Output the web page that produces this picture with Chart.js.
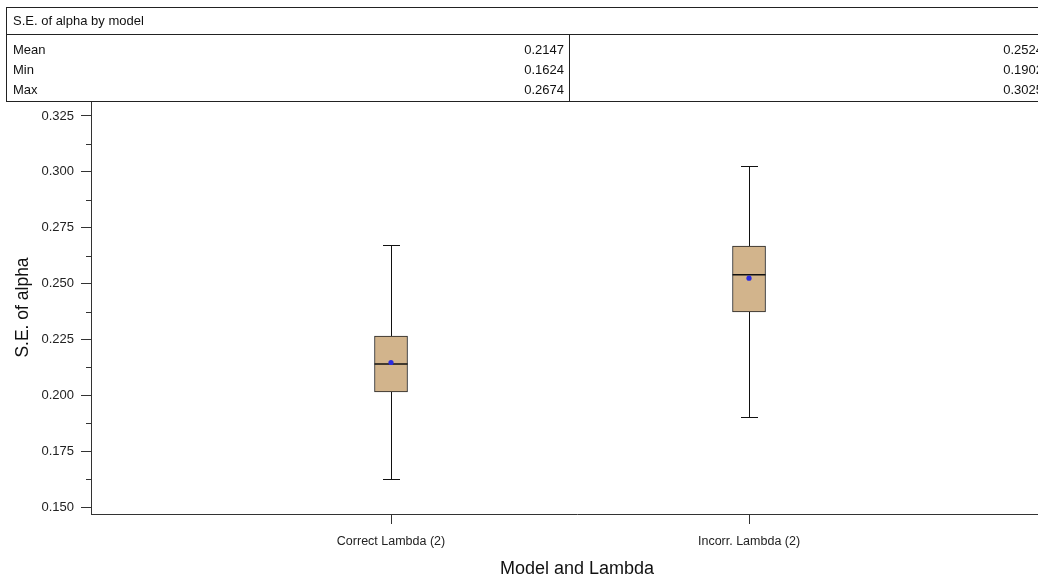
<!DOCTYPE html>
<html>
<head>
<meta charset="utf-8">
<title>S.E. of alpha by model</title>
<script src="https://cdn.jsdelivr.net/npm/chart.js@4.4.0/dist/chart.umd.min.js"></script>
<style>
  html, body { margin: 0; padding: 0; background: #fff; overflow: hidden; width: 1038px; height: 580px; }
  #wrap { position: absolute; left: 0; top: 0; width: 1070px; height: 580px; }
  #summary {
    position: absolute; left: 6px; top: 7px; width: 1160px; height: 93px;
    border: 1px solid #222; box-sizing: content-box;
    font-family: "Liberation Sans", Arial, sans-serif; font-size: 13px; color: #111;
  }
  #summary .title { position: absolute; left: 0; top: 0; width: 100%; height: 26px; border-bottom: 1px solid #222; }
  #summary .title span { position: absolute; left: 6px; top: 5px; }
  #summary .col { position: absolute; top: 27px; height: 66px; }
  #summary .col.first { left: 0; width: 562px; border-right: 1px solid #222; }
  #summary .col.second { left: 563px; width: 478px; }
  #summary .row { position: absolute; left: 0; right: 0; height: 20px; line-height: 20px; }
  #summary .row .name { position: absolute; left: 6px; }
  #summary .row .val { position: absolute; right: 5px; }
</style>
</head>
<body>
<div id="wrap"><canvas id="chart"></canvas></div>
<div id="summary">
  <div class="title"><span>S.E. of alpha by model</span></div>
  <div class="col first" id="colA"></div>
  <div class="col second" id="colB"></div>
</div>
<script>
// Box-plot summaries per model
const categories = ['Correct Lambda (2)', 'Incorr. Lambda (2)'];
const q1Values = [0.2015, 0.2373];
const medianValues = [0.2140, 0.2539];
const q3Values = [0.2265, 0.2668];
const meanValues = [0.2147, 0.2524];
const minValues = [0.1624, 0.1902];
const maxValues = [0.2674, 0.3025];

// Axis tick labels
const yTickLabels = ['0.150', '0.175', '0.200', '0.225', '0.250', '0.275', '0.300', '0.325'];
const yTickValues = yTickLabels.map(Number);

// Summary table rows
const statNames = ['Mean', 'Min', 'Max'];
const statColumns = [
  [meanValues[0], minValues[0], maxValues[0]],
  [meanValues[1], minValues[1], maxValues[1]]
];

['colA', 'colB'].forEach((id, c) => {
  const col = document.getElementById(id);
  statNames.forEach((name, r) => {
    const row = document.createElement('div');
    row.className = 'row';
    row.style.top = (5 + r * 20) + 'px';
    if (c === 0) {
      const n = document.createElement('span');
      n.className = 'name';
      n.textContent = name;
      row.appendChild(n);
    }
    const v = document.createElement('span');
    v.className = 'val';
    v.textContent = statColumns[c][r].toFixed(4);
    row.appendChild(v);
    col.appendChild(row);
  });
});

const FONT = '"Liberation Sans", Arial, sans-serif';
const AXIS_COLOR = '#333';
const LINE_COLOR = '#111';
const CAP_HALF = 8.5;

// Whiskers under the boxes, medians and caps on top of them
const boxLines = {
  id: 'boxLines',
  beforeDatasetsDraw(chart) {
    const { ctx, scales: { x, y } } = chart;
    ctx.save();
    ctx.strokeStyle = LINE_COLOR;
    ctx.lineWidth = 1;
    categories.forEach((c, i) => {
      const px = Math.round(x.getPixelForValue(i + 1)) + 0.5;
      const yMin = Math.round(y.getPixelForValue(minValues[i])) + 0.5;
      const yMax = Math.round(y.getPixelForValue(maxValues[i])) + 0.5;
      ctx.beginPath();
      ctx.moveTo(px, yMin); ctx.lineTo(px, yMax);
      ctx.moveTo(px - CAP_HALF, yMin); ctx.lineTo(px + CAP_HALF, yMin);
      ctx.moveTo(px - CAP_HALF, yMax); ctx.lineTo(px + CAP_HALF, yMax);
      ctx.stroke();
    });
    ctx.restore();
  },
  afterDatasetDraw(chart, args) {
    if (args.index !== 0) return;
    const { ctx, scales: { y } } = chart;
    const meta = chart.getDatasetMeta(0);
    ctx.save();
    ctx.strokeStyle = LINE_COLOR;
    ctx.lineWidth = 1.5;
    meta.data.forEach((bar, i) => {
      const half = bar.width / 2;
      const py = y.getPixelForValue(medianValues[i]);
      ctx.beginPath();
      ctx.moveTo(bar.x - half, py); ctx.lineTo(bar.x + half, py);
      ctx.stroke();
    });
    ctx.restore();
  },
  afterDraw(chart) {
    // minor ticks halfway between labelled ticks
    const { ctx, scales: { y } } = chart;
    const left = y.right;
    ctx.save();
    ctx.strokeStyle = AXIS_COLOR;
    ctx.lineWidth = 1;
    for (let k = 0; k < yTickValues.length - 1; k++) {
      const py = Math.round(y.getPixelForValue((yTickValues[k] + yTickValues[k + 1]) / 2)) + 0.5;
      ctx.beginPath();
      ctx.moveTo(left - 5, py); ctx.lineTo(left, py);
      ctx.stroke();
    }
    ctx.restore();
  }
};

new Chart(document.getElementById('chart'), {
  type: 'bar',
  data: {
    datasets: [
      {
        type: 'bar',
        data: categories.map((c, i) => ({ x: i + 1, y: [q1Values[i], q3Values[i]] })),
        backgroundColor: '#D2B48C',
        borderColor: '#222',
        borderWidth: 1,
        borderSkipped: false,
        barThickness: 33,
        order: 2
      },
      {
        type: 'scatter',
        data: categories.map((c, i) => ({ x: i + 1, y: meanValues[i] })),
        pointRadius: 2.6,
        pointStyle: 'circle',
        backgroundColor: '#2b2be0',
        borderColor: '#2b2be0',
        borderWidth: 0,
        order: 1
      }
    ]
  },
  options: {
    responsive: true,
    maintainAspectRatio: false,
    animation: false,
    layout: { padding: { top: 101, right: 7, left: 0, bottom: 0 } },
    plugins: { legend: { display: false }, tooltip: { enabled: false } },
    scales: {
      x: {
        type: 'linear',
        min: 0.162,
        max: 2.877,
        offset: false,
        grid: { offset: false, drawOnChartArea: false, tickLength: 10, color: AXIS_COLOR },
        border: { color: AXIS_COLOR },
        afterBuildTicks: s => { s.ticks = categories.map((c, i) => ({ value: i + 1 })); },
        afterFit: s => { s.height = 66; },
        ticks: {
          autoSkip: false, maxRotation: 0, padding: 10, color: '#222',
          font: { family: FONT, size: 12.5 },
          callback: v => categories[v - 1]
        },
        title: {
          display: true, text: 'Model and Lambda', color: '#111',
          font: { family: FONT, size: 18 }, padding: { top: 0, bottom: 0 }
        }
      },
      y: {
        type: 'linear',
        beginAtZero: false,
        min: 0.1469,
        max: 0.3317,
        grid: { drawOnChartArea: false, tickLength: 10, color: AXIS_COLOR },
        border: { color: AXIS_COLOR },
        afterBuildTicks: s => { s.ticks = yTickValues.map(v => ({ value: v })); },
        afterFit: s => { s.width = 91; },
        ticks: {
          padding: 7, color: '#222',
          font: { family: FONT, size: 13 },
          callback: (v, i) => yTickLabels[i]
        },
        title: {
          display: true, text: 'S.E. of alpha', color: '#111',
          font: { family: FONT, size: 17.5 }, padding: { top: 13, bottom: 0 }
        }
      }
    }
  },
  plugins: [boxLines]
});
</script>
</body>
</html>
